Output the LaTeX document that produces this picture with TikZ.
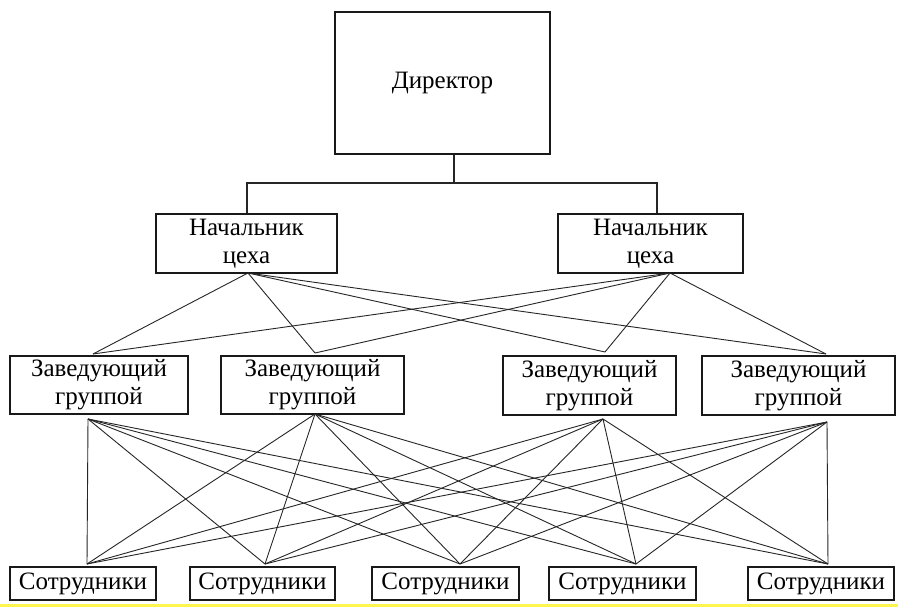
\documentclass[tikz,border=0pt]{standalone}
\usepackage{fontspec}
\setmainfont{Liberation Serif}
\begin{document}
\begin{tikzpicture}[x=1pt,y=-1pt,
  box/.style={draw=black!90, line width=1.7pt, rectangle, inner sep=0pt, align=center,
    font=\fontsize{25}{28}\selectfont},
  tree/.style={draw=black!85, line width=1.1pt},
  link/.style={draw=black!85, line width=0.9pt}]
\useasboundingbox (0,0) rectangle (898,607);
\fill[white] (0,0) rectangle (898,607);
\fill[yellow!70!white] (0,604) rectangle (898,607);

% boxes
\node[box, minimum width=215pt, minimum height=142pt] (dir) at (442.5,83) {Директор};
\node[box, minimum width=181pt, minimum height=59pt] (n1) at (246.5,243.5) {Начальник\\цеха};
\node[box, minimum width=185pt, minimum height=59pt] (n2) at (650.5,243.5) {Начальник\\цеха};
\node[box, minimum width=178pt, minimum height=58pt] (z1) at (99,385) {Заведующий\\группой};
\node[box, minimum width=183pt, minimum height=58pt] (z2) at (312.5,385) {Заведующий\\группой};
\node[box, minimum width=173pt, minimum height=59pt] (z3) at (589.5,385.5) {Заведующий\\группой};
\node[box, minimum width=193pt, minimum height=59pt] (z4) at (798.5,385.5) {Заведующий\\группой};
\node[box, minimum width=146pt, minimum height=33pt] (s1) at (83,583.5) {Сотрудники};
\node[box, minimum width=145pt, minimum height=33pt] (s2) at (262.5,583.5) {Сотрудники};
\node[box, minimum width=147pt, minimum height=33pt] (s3) at (445.5,583.5) {Сотрудники};
\node[box, minimum width=147pt, minimum height=33pt] (s4) at (622.5,583.5) {Сотрудники};
\node[box, minimum width=146pt, minimum height=33pt] (s5) at (821,583.5) {Сотрудники};

% junction points
\coordinate (j) at (454,183);
\coordinate (jl) at (247,183);
\coordinate (jr) at (657,183);
\coordinate (n1b) at (248,273);
\coordinate (n2b) at (670,273);
\coordinate (z1t) at (93,354);
\coordinate (z2t) at (315,353);
\coordinate (z3t) at (605,352);
\coordinate (z4t) at (826,354);
\coordinate (z1b) at (88,419);
\coordinate (z2b) at (315,414);
\coordinate (z3b) at (603,419);
\coordinate (z4b) at (827,422);
\coordinate (s1t) at (87,564);
\coordinate (s2t) at (265,564);
\coordinate (s3t) at (460,564);
\coordinate (s4t) at (636,564);
\coordinate (s5t) at (828,564);

% director tree
\draw[tree] (dir.south -| j) -- (j);
\draw[tree] (jl |- n1.north) -- (jl) -- (jr) -- (jr |- n2.north);

% chiefs to group heads
\foreach \n in {n1b,n2b}
  \foreach \z in {z1t,z2t,z3t,z4t}
    \draw[link] (\n) -- (\z);

% group heads to staff
\foreach \z in {z1b,z2b,z3b,z4b}
  \foreach \s in {s1t,s2t,s3t,s4t,s5t}
    \draw[link] (\z) -- (\s);
\end{tikzpicture}
\end{document}
